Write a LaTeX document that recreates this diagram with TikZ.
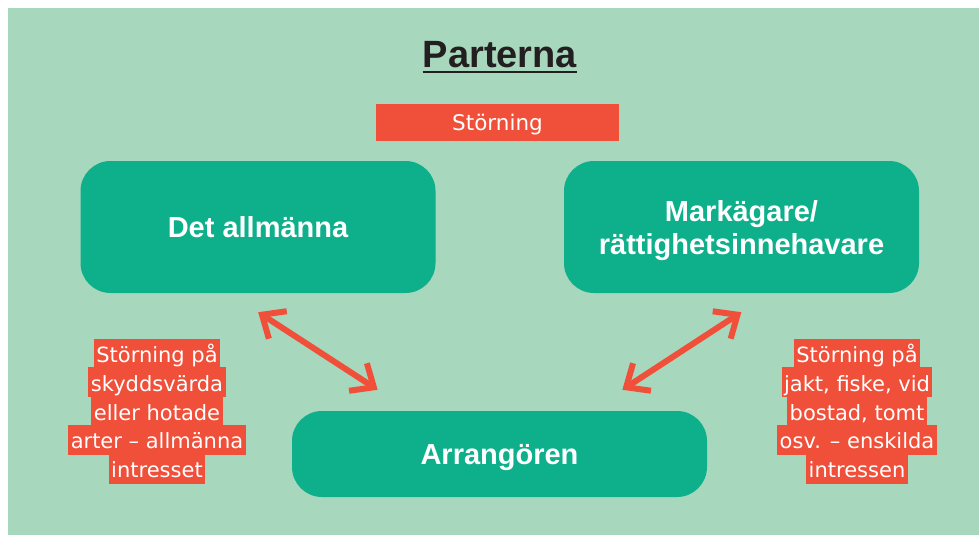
\documentclass[tikz,border=0pt]{standalone}
\usepackage{fontspec}
\setmainfont{DejaVu Sans}
\newfontfamily\lib{Liberation Sans}
\usetikzlibrary{calc}
\definecolor{bg}{HTML}{A7D7BD}
\definecolor{boxg}{HTML}{0DB08A}
\definecolor{stor}{HTML}{F0503A}
\definecolor{ink}{HTML}{231F20}
\newcommand\hlline[1]{{\setlength\fboxsep{0pt}\colorbox{stor}{\rule[-6pt]{0pt}{30pt}\hspace{2.5pt}#1\hspace{2.5pt}}}}
\begin{document}
\begin{tikzpicture}[x=1pt,y=-1pt,
  bx/.style={fill=boxg, rounded corners=30pt, text=white, align=center, inner sep=0pt,
    font=\lib\bfseries\fontsize{29}{33}\selectfont},
  lbl/.style={align=center, inner sep=0pt, text=white,
    font=\fontsize{21}{28.75}\selectfont,
    execute at begin node={\lineskiplimit=-100pt\lineskip=0pt}},
  arr/.style={draw=stor, line width=6pt},
  chev/.style={draw=stor, line width=6pt, miter limit=10, line join=miter, line cap=butt}
]
\useasboundingbox (0,0) rectangle (979,535);
\fill[white] (0,0) rectangle (979,535);
\fill[bg] (8,8) rectangle (979,535);

\node[font=\lib\bfseries\fontsize{38}{42}\selectfont, text=ink, inner sep=0pt, anchor=base] (title) at (500,67) {Parterna};
\draw[ink, line width=2pt] ([yshift=-5pt]title.base west) -- ([yshift=-5pt]title.base east);

\node[fill=stor, minimum width=243pt, minimum height=37pt, inner sep=0pt, text=white,
  font=\fontsize{21.5}{25}\selectfont, text height=15.6pt, text depth=0pt] (storbox) at (497.5,122.5) {Störning};

\node[bx, minimum width=355pt, minimum height=132pt] (allm) at (258,227) {Det allmänna};
\node[bx, minimum width=355pt, minimum height=132pt, text depth=0pt] (mark) at (741.5,227) {Markägare/\\rättighetsinnehavare};
\node[bx, minimum width=415pt, minimum height=86pt, text depth=0pt] (arrang) at (499.5,454) {Arrangören};

\node[lbl] (lefttxt) at (157,411) {\hlline{Störning på}\\\hlline{skyddsvärda}\\\hlline{eller hotade}\\\hlline{arter – allmänna}\\\hlline{intresset}};
\node[lbl] (righttxt) at (857,411) {\hlline{Störning på}\\\hlline{jakt, fiske, vid}\\\hlline{bostad, tomt}\\\hlline{osv. – enskilda}\\\hlline{intressen}};

\coordinate (la) at ([xshift=4pt,yshift=-21.5pt]allm.south);
\coordinate (lb) at ([xshift=82pt,yshift=23.5pt]arrang.north west);
\coordinate (ra) at ([xshift=-4pt,yshift=-21.5pt]mark.south);
\coordinate (rb) at ([xshift=-81pt,yshift=23.5pt]arrang.north east);
\draw[arr] (la) -- (lb);
\draw[arr] (rb) -- (ra);
\draw[chev] ($(la)!25pt!-41:(lb)$) -- (la) -- ($(la)!25pt!41:(lb)$);
\draw[chev] ($(lb)!25pt!-41:(la)$) -- (lb) -- ($(lb)!25pt!41:(la)$);
\draw[chev] ($(ra)!25pt!-41:(rb)$) -- (ra) -- ($(ra)!25pt!41:(rb)$);
\draw[chev] ($(rb)!25pt!-41:(ra)$) -- (rb) -- ($(rb)!25pt!41:(ra)$);
\end{tikzpicture}
\end{document}
